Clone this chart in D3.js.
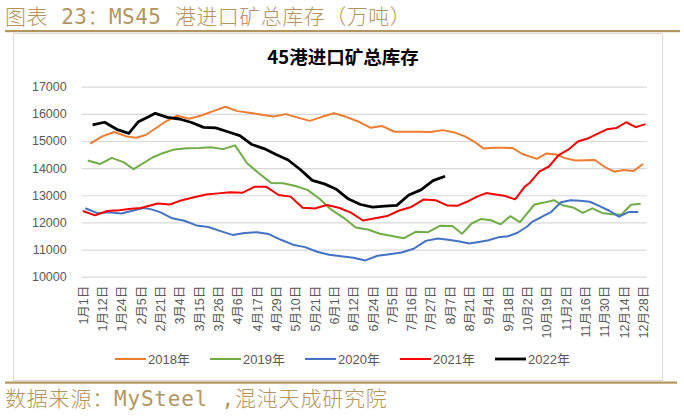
<!DOCTYPE html>
<html>
<head>
<meta charset="utf-8">
<script src="https://cdn.jsdelivr.net/npm/d3@7/dist/d3.min.js"></script>
<style>
  body { margin: 0; background: #fff; }
  svg { display: block; }
</style>
</head>
<body>
<svg id="chart" width="684" height="416"></svg>
<script>
// weekly (Friday) readings, one array per year; a few holiday weeks have no reading
var seriesNames = ["2018年", "2019年", "2020年", "2021年", "2022年"];
var firstDates = ["2018-01-05", "2019-01-04", "2020-01-03", "2021-01-01", "2022-01-07"];
var missingDates = [["2018-02-16", "2018-10-05"], ["2019-02-08", "2019-10-04"], ["2020-01-31"], ["2021-02-12"], []];

var values2018 = [14900, 15170, 15330, 15170, 15120, 15220, 15700, 15930, 15820, 15940,
                  16100, 16260, 16100, 16040, 15970, 15900, 15990, 15860, 15740, 15890,
                  16020, 15890, 15720, 15490, 15550, 15340, 15340, 15340, 15330, 15400,
                  15310, 15180, 14980, 14720, 14750, 14750, 14740, 14520, 14340, 14540,
                  14500, 14360, 14280, 14290, 14300, 14050, 13870, 13930, 13890, 14150];
var values2019 = [14280, 14150, 14380, 14210, 13960, 14400, 14550, 14690, 14730, 14740,
                  14770, 14700, 14840, 14180, 13800, 13450, 13440, 13340, 13200, 12870,
                  12460, 12170, 11810, 11740, 11580, 11500, 11420, 11660, 11640, 11880,
                  11870, 11580, 11960, 12130, 12080, 11930, 12230, 12010, 12660, 12730,
                  12820, 12620, 12550, 12350, 12520, 12350, 12300, 12280, 12650, 12690];
var values2020 = [12520, 12340, 12370, 12330, 12530, 12490, 12380, 12150, 12060, 11890,
                  11830, 11680, 11540, 11610, 11640, 11570, 11360, 11180, 11090, 10920,
                  10810, 10750, 10700, 10600, 10770, 10830, 10890, 11030, 11320, 11410,
                  11350, 11300, 11220, 11280, 11340, 11450, 11490, 11620, 11850, 12020,
                  12200, 12390, 12740, 12820, 12800, 12760, 12600, 12430, 12210, 12380,
                  12380];
var values2021 = [12420, 12260, 12420, 12450, 12500, 12530, 12700, 12660, 12820, 12930,
                  13030, 13070, 13110, 13090, 13310, 13310, 13010, 12950, 12540, 12510,
                  12640, 12540, 12360, 12070, 12150, 12235, 12440, 12570, 12840, 12820,
                  12620, 12610, 12760, 12940, 13080, 13030, 12970, 12850, 13320, 13450,
                  13870, 14060, 14480, 14680, 14980, 15090, 15260, 15430, 15480, 15690,
                  15510, 15620];
var values2022 = [15590, 15690, 15430, 15280, 15710, 15880, 16020, 15870, 15810, 15680,
                  15500, 15480, 15340, 15200, 14870, 14720, 14500, 14300, 13950, 13550,
                  13420, 13220, 12860, 12660, 12560, 12600, 12630, 13010, 13200, 13540,
                  13700];

var tickLabels = ["1月1日", "1月12日", "1月24日", "2月5日", "2月21日", "3月4日", "3月15日", "3月26日",
                  "4月6日", "4月17日", "4月29日", "5月10日", "5月21日", "6月1日", "6月12日", "6月24日",
                  "7月5日", "7月16日", "7月27日", "8月7日", "8月21日", "9月4日", "9月18日", "10月2日",
                  "10月19日", "11月2日", "11月16日", "11月30日", "12月14日", "12月28日"];
var yTicks = [10000, 11000, 12000, 13000, 14000, 15000, 16000, 17000];

var colors = ["#ED7D31", "#70AD47", "#4472C4", "#FF0000", "#000000"];
var widths = [2, 2, 2, 2, 2.8];
var gold = "#b3965f";

var allValues = [values2018, values2019, values2020, values2021, values2022];

// attach a month/day category to each weekly reading
var series = allValues.map(function (vals, i) {
    var p = firstDates[i].split("-").map(Number);
    var pts = [], k = 0;
    while (pts.length < vals.length) {
        var d = new Date(Date.UTC(p[0], p[1] - 1, p[2] + 7 * k));
        k++;
        if (missingDates[i].indexOf(d.toISOString().slice(0, 10)) >= 0) continue;
        pts.push({
            cat: (d.getUTCMonth() + 1) + "月" + d.getUTCDate() + "日",
            order: (d.getUTCMonth() + 1) * 100 + d.getUTCDate(),
            v: vals[pts.length]
        });
    }
    return {name: seriesNames[i], color: colors[i], width: widths[i], points: pts};
});

// category axis = every month/day that appears in any year
var catMap = new Map();
series.forEach(function (s) { s.points.forEach(function (p) { catMap.set(p.cat, p.order); }); });
var categories = Array.from(catMap.keys()).sort(function (a, b) { return catMap.get(a) - catMap.get(b); });

var svg = d3.select("#chart");
var font = "'Liberation Sans', 'Noto Sans CJK SC', sans-serif";
var headFont = "'DejaVu Sans Mono', 'Noto Sans CJK SC', sans-serif";

// header / footer
svg.append("text")
    .attr("x", 5).attr("y", 24)
    .attr("font-family", headFont)
    .attr("font-weight", 300)
    .attr("font-size", "21px")
    .attr("letter-spacing", "0.5px")
    .attr("fill", gold)
    .text("图表 23：MS45 港进口矿总库存（万吨）");
svg.append("rect").attr("x", 5).attr("y", 30).attr("width", 675).attr("height", 2.2).attr("fill", gold);

svg.append("rect")
    .attr("x", 13.5).attr("y", 33.5).attr("width", 649).attr("height", 347)
    .attr("fill", "#fff").attr("stroke", "#d9d9d9");

svg.append("rect").attr("x", 5).attr("y", 381.5).attr("width", 672).attr("height", 2.2).attr("fill", gold);
svg.append("text")
    .attr("x", 5).attr("y", 406)
    .attr("font-family", headFont)
    .attr("font-weight", 300)
    .attr("font-size", "21px")
    .attr("letter-spacing", "0.8px")
    .attr("fill", gold)
    .text("数据来源：MySteel ,混沌天成研究院");

// chart title
svg.append("text")
    .attr("x", 343).attr("y", 64)
    .attr("text-anchor", "middle")
    .attr("font-family", "'Noto Sans CJK SC', sans-serif")
    .attr("font-weight", 700)
    .attr("font-size", "18.5px")
    .attr("fill", "#000")
    .text("45港进口矿总库存");

var plot = {left: 81.7, right: 646.7, top: 86.7, bottom: 276.7};

var x = d3.scalePoint().domain(categories).range([plot.left, plot.right]).padding(0.5);
var y = d3.scaleLinear().domain([10000, 17000]).range([plot.bottom, plot.top]);

// y axis + gridlines
var yAxis = svg.append("g")
    .attr("transform", "translate(" + plot.left + ",0)")
    .call(d3.axisLeft(y).tickValues(yTicks).tickSize(-(plot.right - plot.left)).tickPadding(15)
        .tickFormat(d3.format("d")));
yAxis.select(".domain").remove();
yAxis.selectAll("line").attr("stroke", "#d9d9d9").attr("stroke-width", 1.2);
yAxis.selectAll("text").attr("fill", "#595959").attr("font-family", font).attr("font-size", "12.5px");

// x axis labels (rotated)
var xAxis = svg.append("g")
    .attr("transform", "translate(0," + plot.bottom + ")")
    .call(d3.axisBottom(x).tickValues(tickLabels).tickSize(0));
xAxis.select(".domain").remove();
xAxis.selectAll("text")
    .attr("transform", "rotate(-90)")
    .attr("x", -9).attr("y", 0).attr("dy", "0.35em")
    .style("text-anchor", "end")
    .attr("fill", "#595959").attr("font-family", font).attr("font-size", "12.5px");

// lines
var line = d3.line().x(function (d) { return x(d.cat); }).y(function (d) { return y(d.v); });
svg.append("g").selectAll("path")
    .data(series)
    .enter()
    .append("path")
    .attr("d", function (d) { return line(d.points); })
    .attr("fill", "none")
    .attr("stroke", function (d) { return d.color; })
    .attr("stroke-width", function (d) { return d.width; })
    .attr("stroke-linejoin", "round");

// legend
var legend = svg.append("g").selectAll("g")
    .data(series)
    .enter()
    .append("g")
    .attr("transform", function (d, i) { return "translate(" + (115 + i * 95) + ",359)"; });
legend.append("line")
    .attr("x1", 0).attr("x2", 31).attr("y1", 0).attr("y2", 0)
    .attr("stroke", function (d) { return d.color; })
    .attr("stroke-width", function (d) { return d.width; });
legend.append("text")
    .attr("x", 33).attr("y", 0).attr("dy", "0.35em")
    .attr("fill", "#595959").attr("font-family", font).attr("font-size", "13px")
    .text(function (d) { return d.name; });
</script>
</body>
</html>
